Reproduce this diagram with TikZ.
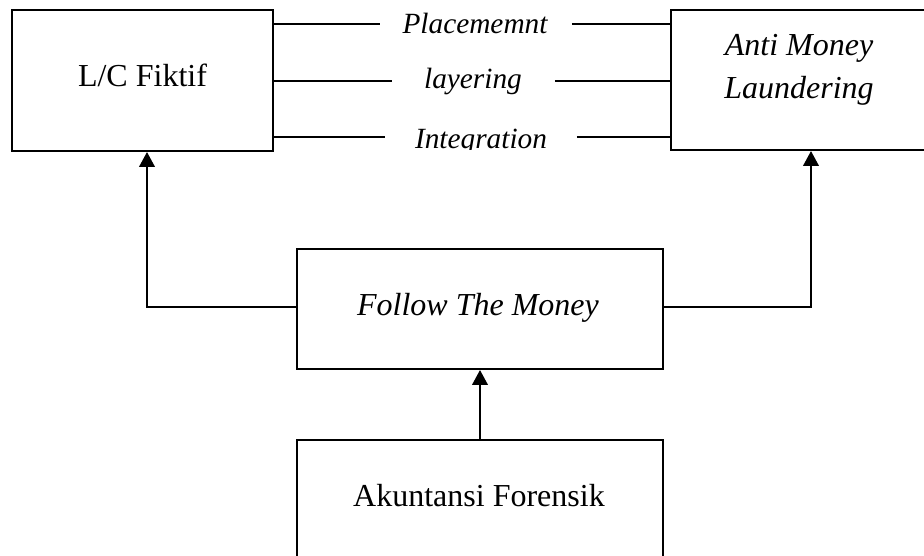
\documentclass[tikz,border=0pt]{standalone}
\usepackage{fontspec}
\setmainfont{Liberation Serif}
\usetikzlibrary{arrows.meta}
\begin{document}
\begin{tikzpicture}[x=0.375pt,y=-0.375pt,
  boxnode/.style={draw=black, line width=0.75pt, inner sep=0pt},
  txt/.style={anchor=base, inner sep=0pt, font=\fontsize{12}{14}\selectfont},
  itxt/.style={anchor=base, inner sep=0pt, font=\fontsize{12}{14}\selectfont\itshape},
  lbl/.style={anchor=base, inner sep=0pt, font=\fontsize{11}{13}\selectfont\itshape},
  link/.style={draw=black, line width=0.9pt},
  arr/.style={link, -{Triangle[width=5.8pt,length=5.6pt]}}]
\clip (0,0) rectangle (924,556);
\fill[white] (0,0) rectangle (924,556);

% boxes
\node[boxnode, minimum width=97.875pt, minimum height=52.875pt] (lc) at (142.5,80.5) {};
\node[boxnode, minimum width=96pt, minimum height=52.5pt] (aml) at (799,80) {};
\node[boxnode, minimum width=137.25pt, minimum height=45pt] (ftm) at (480,309) {};
\node[boxnode, minimum width=137.25pt, minimum height=52.5pt] (ak) at (480,510) {};

% box texts
\node[txt] (lct) at (142.5,87) {L/C Fiktif};
\node[itxt] (amlt1) at (799,56) {Anti Money};
\node[itxt] (amlt2) at (799,99) {Laundering};
\node[itxt] (ftmt) at (478,316) {Follow The Money};
\node[txt] (akt) at (479,507) {Akuntansi Forensik};

% middle labels
\node[lbl] (pl) at (475,34) {Placememnt};
\node[lbl] (ly) at (473,89) {layering};
\begin{scope}
  \clip (300,0) rectangle (650,150);
  \node[lbl] (ig) at (481,149) {Integration};
\end{scope}

% middle connector ends
\coordinate (pa) at (380,24);
\coordinate (pb) at (572,24);
\coordinate (la) at (392,81);
\coordinate (lb) at (555,81);
\coordinate (ia) at (385,137);
\coordinate (ib) at (577,137);
\draw[link] (pa -| lc.east) -- (pa);
\draw[link] (pb) -- (pb -| aml.west);
\draw[link] (la -| lc.east) -- (la);
\draw[link] (lb) -- (lb -| aml.west);
\draw[link] (ia -| lc.east) -- (ia);
\draw[link] (ib) -- (ib -| aml.west);

% arrows
\coordinate (lx) at (147,0);
\coordinate (rx) at (811,0);
\draw[arr] (ftm.west |- 0,307) -| (lc.south -| lx);
\draw[arr] (ftm.east |- 0,307) -| (aml.south -| rx);
\draw[arr] (ak.north) -- (ftm.south);
\end{tikzpicture}
\end{document}
